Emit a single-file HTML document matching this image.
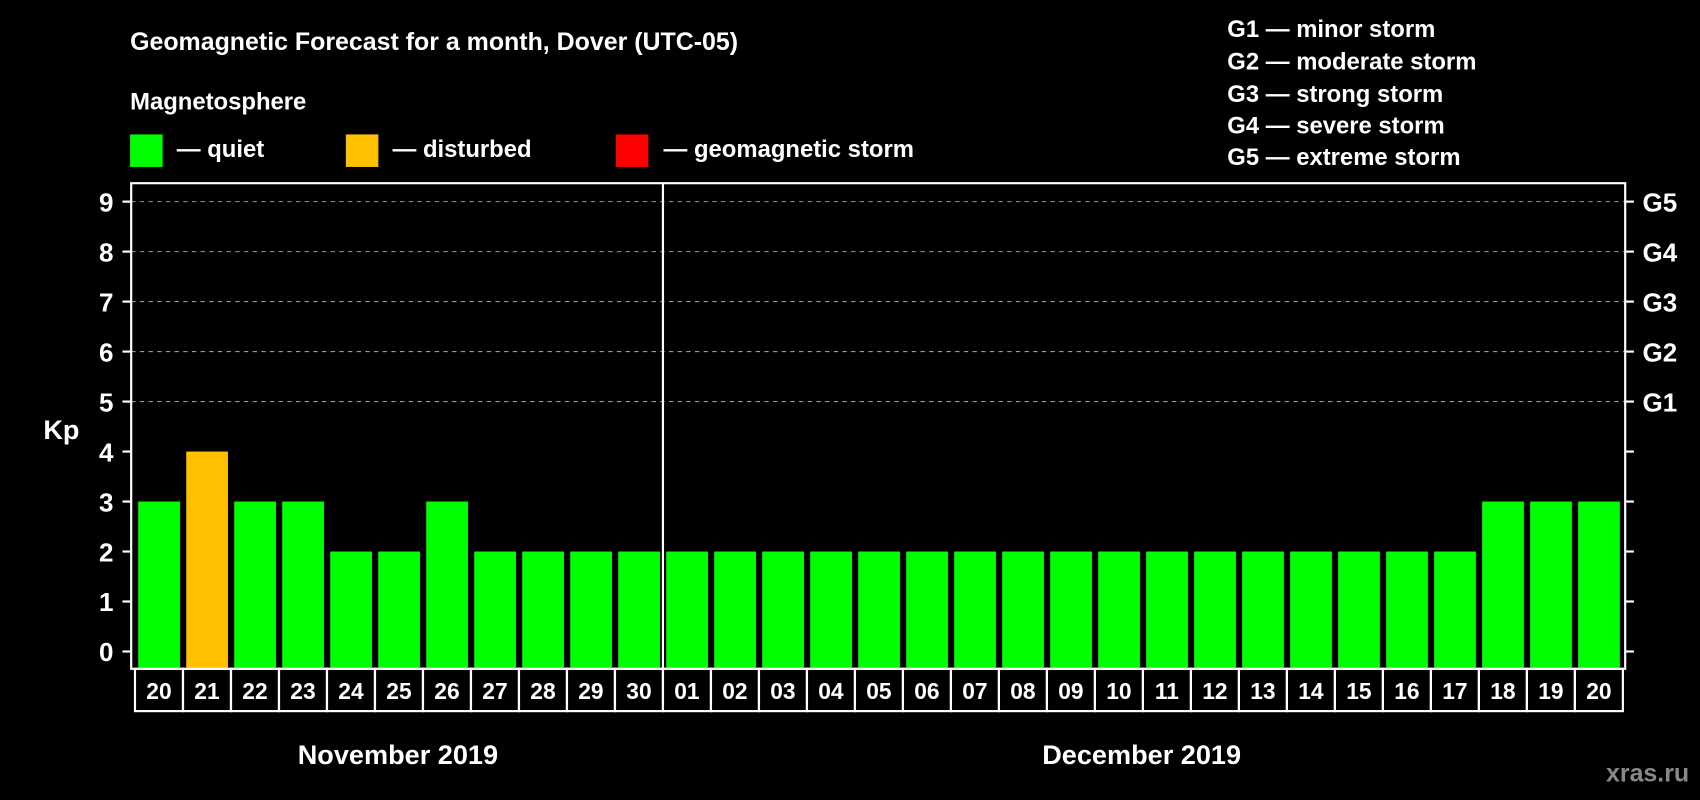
<!DOCTYPE html>
<html><head><meta charset="utf-8"><style>
html,body{margin:0;padding:0;background:#000;}
svg{display:block;font-family:"Liberation Sans",Arial,sans-serif;font-weight:bold;}
</style></head><body>
<svg id="chart" width="1700" height="800" viewBox="0 0 1568 738" preserveAspectRatio="none">
<rect x="0" y="0" width="1568" height="738" fill="#000"/>
<text x="120" y="46" fill="#fff" font-size="23">Geomagnetic Forecast for a month, Dover (UTC-05)</text>
<text x="120" y="101" fill="#fff" font-size="22">Magnetosphere</text>
<g><rect x="120" y="124" width="30" height="30" fill="#00ff00"/><text x="163" y="145" fill="#fff" font-size="22">— quiet</text></g>
<g><rect x="319" y="124" width="30" height="30" fill="#ffc000"/><text x="362" y="145" fill="#fff" font-size="22">— disturbed</text></g>
<g><rect x="568" y="124" width="30" height="30" fill="#ff0000"/><text x="612" y="145" fill="#fff" font-size="22">— geomagnetic storm</text></g>
<g font-size="22" fill="#fff">
<text x="1132" y="34">G1 — minor storm</text>
<text x="1132" y="64">G2 — moderate storm</text>
<text x="1132" y="94">G3 — strong storm</text>
<text x="1132" y="123">G4 — severe storm</text>
<text x="1132" y="152">G5 — extreme storm</text>
</g>
<text x="40" y="405" fill="#fff" font-size="25">Kp</text>
<g id="plot"></g>
<text x="367" y="705" fill="#fff" font-size="25" text-anchor="middle">November 2019</text>
<text x="1053" y="705" fill="#fff" font-size="25" text-anchor="middle">December 2019</text>
<text x="1558" y="721" fill="#888" font-size="23" text-anchor="end">xras.ru</text>
</svg>
<script>
const days=["20","21","22","23","24","25","26","27","28","29","30","01","02","03","04","05","06","07","08","09","10","11","12","13","14","15","16","17","18","19","20"];
const kp=[3,4,3,3,2,2,3,2,2,2,2,2,2,2,2,2,2,2,2,2,2,2,2,2,2,2,2,2,3,3,3];
const yTicks=[0,1,2,3,4,5,6,7,8,9];
const gLabels=["G1","G2","G3","G4","G5"];
const NS="http://www.w3.org/2000/svg";
const g=document.getElementById('plot');
const L=121,R=1499,T=169,B=617,y0=601,y9=186;
const y=v=>y0+(y9-y0)*v/9;
const pitch=44.27,x0=124.5;
const x=i=>x0+i*pitch;
function mk(t,a){const e=document.createElementNS(NS,t);for(const k in a)e.setAttribute(k,a[k]);g.appendChild(e);return e;}
yTicks.forEach(v=>{
  if(v>=5){const l=mk('line',{x1:L,x2:R,y1:y(v),y2:y(v),stroke:'#999','stroke-dasharray':'4,4','stroke-width':1});
  
  }
  mk('line',{x1:L-8,x2:L,y1:y(v),y2:y(v),stroke:'#fff','stroke-width':2});
  mk('line',{x1:R,x2:R+8,y1:y(v),y2:y(v),stroke:'#fff','stroke-width':2});
  const t=mk('text',{x:98,y:y(v)+9,fill:'#fff','font-size':24,'text-anchor':'middle'});
  t.textContent=v;
  
  
});
gLabels.forEach((s,i)=>{
  const t=mk('text',{x:1515,y:y(5+i)+9,fill:'#fff','font-size':24});
  t.textContent=s;
  
  
});
kp.forEach((v,i)=>{
  const c=v>=5?'#ff0000':(v>=4?'#ffc000':'#00ff00');
  const r=mk('rect',{x:x(i)+3,y:y(v),width:38.5,height:B-1-y(v),fill:c});
  
  
  const b=mk('rect',{x:x(i),y:B,width:pitch,height:39,fill:'none',stroke:'#fff','stroke-width':2});
  
  
  const t=mk('text',{x:x(i)+pitch/2,y:B+28,fill:'#fff','font-size':21,'text-anchor':'middle'});
  t.textContent=days[i];
  
  
});
const f=mk('rect',{x:L,y:T,width:R-L,height:B-T,fill:'none',stroke:'#fff','stroke-width':2});


const d=mk('line',{x1:x(11),x2:x(11),y1:T,y2:B,stroke:'#fff','stroke-width':2});


</script>
</body></html>
